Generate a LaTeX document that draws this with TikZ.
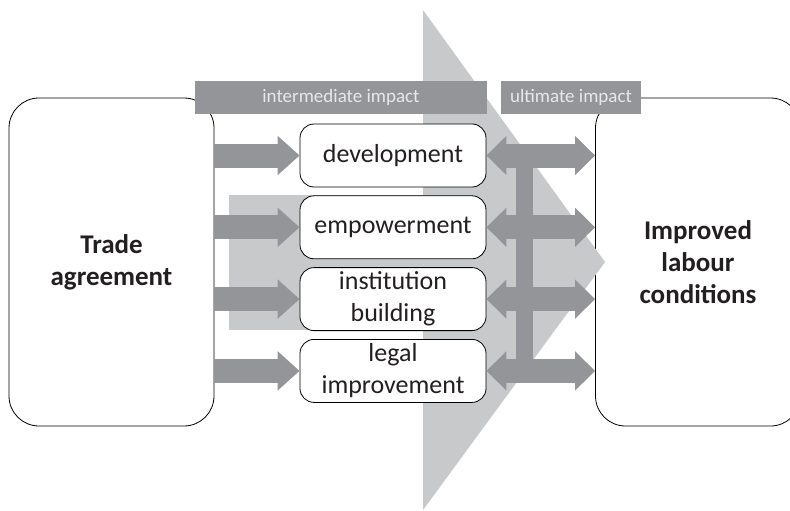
\documentclass[tikz,border=0pt]{standalone}
\usepackage{fontspec}
\setmainfont{Carlito}
\usetikzlibrary{arrows.meta, positioning}
\definecolor{darkgrey}{RGB}{147,149,152}
\definecolor{lightgrey}{RGB}{200,201,203}
\definecolor{headtext}{RGB}{232,232,233}
\definecolor{inktext}{RGB}{35,31,32}
\tikzstyle{sidebox} = [draw, fill=white, line width=0.8pt, rounded corners=30pt, minimum width=205pt, minimum height=328pt, align=center, text=inktext, font=\fontsize{27}{32}\selectfont\bfseries]
\tikzstyle{impactbox} = [draw, fill=white, line width=0.8pt, rounded corners=14pt, minimum width=186pt, minimum height=63pt, inner sep=2pt, align=center, text=inktext, font=\fontsize{26}{32}\selectfont]
\tikzstyle{header} = [fill=darkgrey, text=headtext, minimum height=33pt, inner sep=0pt, font=\fontsize{19}{22}\selectfont]
\tikzstyle{inarrow} = [darkgrey, line width=24pt, -{Triangle[length=22pt,width=38pt]}]
\tikzstyle{outarrow} = [darkgrey, line width=24pt, {Triangle[length=20pt,width=38pt]}-{Triangle[length=20pt,width=38pt]}]

\begin{document}
\begin{tikzpicture}[x=1pt, y=-1pt]
        \clip (0,0) rectangle (790,511);

        % Side boxes
        \node[sidebox] (trade) at (111.5,262) {Trade\\agreement};
        \node[sidebox] (labour) at (698,262) {Improved\\labour\\conditions};

        % Background shapes
        \fill[lightgrey] (423,10) -- (605,262) -- (423,510) -- cycle;
        \fill[lightgrey] (229,195) rectangle (430,330);

        % Impact boxes
        \node[impactbox] (dev) at (393,155.5) {development};
        \node[impactbox, below=8pt of dev] (emp) {empowerment};
        \node[impactbox, below=8pt of emp] (inst) {institution\\building};
        \node[impactbox, below=8pt of inst] (legal) {legal\\improvement};

        % Arrows
        \coordinate (junction) at (524.5,0);
        \draw[darkgrey, line width=17pt] (junction |- dev.east) -- (junction |- legal.east);
        \foreach \stage in {dev, emp, inst, legal} {
            \draw[inarrow] (trade.east |- \stage.west) -- (\stage.west);
            \draw[outarrow] (\stage.east) -- (labour.west |- \stage.east);
        }

        % Headers
        \node[header, minimum width=292pt] (intermediate) at (341,97.5) {intermediate impact};
        \node[header, minimum width=140pt] (ultimate) at (571,97.5) {ultimate impact};
    \end{tikzpicture}
\end{document}
